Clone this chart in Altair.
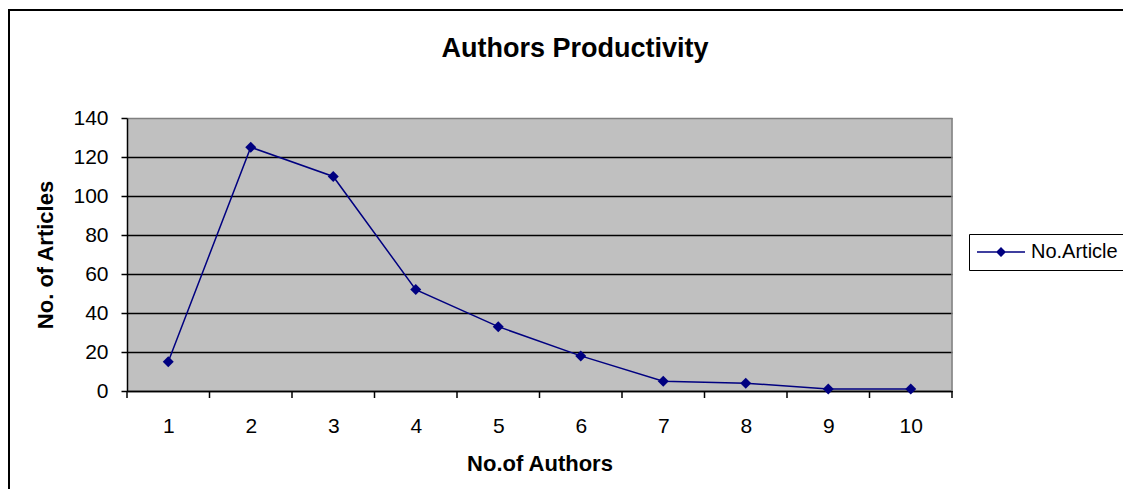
import altair as alt
import pandas as pd

# ---- data ----
authors = [1, 2, 3, 4, 5, 6, 7, 8, 9, 10]
articles = [15, 125, 110, 52, 33, 18, 5, 4, 1, 1]
series_name = "No.Article"
y_ticks = [0, 20, 40, 60, 80, 100, 120, 140]
x_tick_edges = [0.5, 1.5, 2.5, 3.5, 4.5, 5.5, 6.5, 7.5, 8.5, 9.5, 10.5]
right_edge = [10.5]

df = pd.DataFrame({"authors": authors, "articles": articles,
                   "series": [series_name] * len(authors)})
edges_df = pd.DataFrame({"edge": x_tick_edges})
right_df = pd.DataFrame({"edge": right_edge})
dummy_df = pd.DataFrame({"d": [0]})

W, H = 825, 273
FONT = "Liberation Sans"
NAVY = "#000080"

x_scale = alt.Scale(domain=[0.5, 10.5], nice=False, zero=False)
y_scale = alt.Scale(domain=[0, 140], nice=False)

x_axis = alt.Axis(values=authors, title="No.of Authors", grid=False, ticks=False,
                  tickSize=0, labelPadding=41, labelBaseline="alphabetic",
                  labelFontSize=21, labelFont=FONT, labelColor="black",
                  titleFontSize=22, titleFont=FONT, titleFontWeight="bold",
                  titleColor="black", titleY=79, titleBaseline="alphabetic",
                  domainColor="black", domainWidth=1.5, format="d")

y_axis = alt.Axis(values=y_ticks, title="No. of Articles", grid=True,
                  gridColor={"condition": {"test": "datum.value === 140", "value": "#808080"},
                             "value": "black"},
                  gridWidth=1.5, tickSize=6, tickColor="black", tickWidth=1.5,
                  labelPadding=13, labelFontSize=21, labelFont=FONT, labelColor="black",
                  titleFontSize=22, titleFont=FONT, titleFontWeight="bold", titleColor="black",
                  titleX=-82, titleY=136.5, titleAngle=270, titleBaseline="middle",
                  titleAlign="center", domainColor="black", domainWidth=1.5)

legend = alt.Legend(title=None, orient="none", legendX=842, legendY=116,
                    strokeColor="black", fillColor="white", padding=8,
                    symbolType="M-4.8,-0.15H4.8V0.15H-4.8Z M0,-1L1,0L0,1L-1,0Z",
                    symbolSize=100, symbolFillColor=NAVY, symbolStrokeWidth=0,
                    symbolOffset=14, labelOffset=20, labelFontSize=20, labelFont=FONT,
                    labelColor="black", cornerRadius=0)

border = alt.Chart(dummy_df).mark_rect(fillOpacity=0, stroke="black", strokeWidth=2).encode(
    x=alt.value(-118), x2=alt.value(1100), y=alt.value(-108), y2=alt.value(500))

x_ticks = alt.Chart(edges_df).mark_rule(color="black", strokeWidth=1.5).encode(
    x=alt.X("edge:Q", scale=x_scale, axis=x_axis),
    y=alt.value(H), y2=alt.value(H + 7))

right_border = alt.Chart(right_df).mark_rule(color="#808080", strokeWidth=1.5).encode(
    x=alt.X("edge:Q", scale=x_scale), y=alt.value(0), y2=alt.value(H))

line = alt.Chart(df).mark_line(color=NAVY, strokeWidth=1.5).encode(
    x=alt.X("authors:Q", scale=x_scale, axis=x_axis),
    y=alt.Y("articles:Q", scale=y_scale, axis=y_axis))

points = alt.Chart(df).mark_point(shape="diamond", filled=True, size=120, opacity=1).encode(
    x=alt.X("authors:Q", scale=x_scale, axis=x_axis),
    y=alt.Y("articles:Q", scale=y_scale, axis=y_axis),
    color=alt.Color("series:N", scale=alt.Scale(domain=[series_name], range=[NAVY]),
                    legend=legend))

chart = alt.layer(border, x_ticks, right_border, line, points).properties(
    width=W, height=H,
    padding={"left": 119, "top": 110, "right": 171, "bottom": 98},
    autosize=alt.AutoSizeParams(type="none"),
    background="white",
    title=alt.TitleParams("Authors Productivity", fontSize=27, font=FONT,
                          fontWeight="bold", color="black", anchor="middle",
                          dx=35.5, offset=-75, baseline="alphabetic"),
).configure_view(fill="#C0C0C0", stroke="transparent")

chart.save("out.html", embed_options={"renderer": "svg", "actions": False})
